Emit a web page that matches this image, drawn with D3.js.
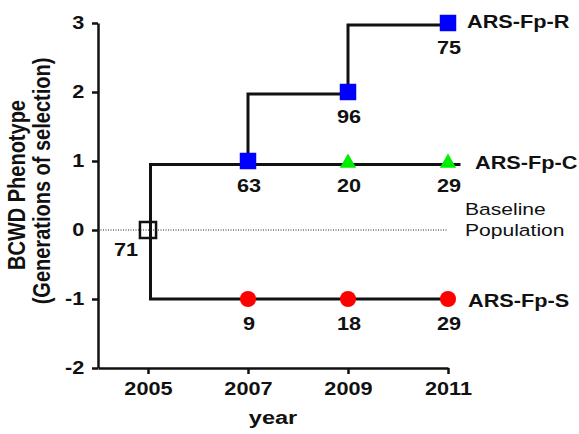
<!DOCTYPE html>
<html>
<head>
<meta charset="utf-8">
<script src="https://cdn.jsdelivr.net/npm/d3@7"></script>
<style>
  body { margin: 0; background: #fff; }
  svg text { font-family: "Liberation Sans", Arial, sans-serif; fill: #111; }
</style>
</head>
<body>
<div id="graph"></div>
<script>
// chart values
var years = [2005, 2007, 2009, 2011];
var yTicks = [-2, -1, 0, 1, 2, 3];

var baseline = [{year: 2005, value: 0, n: 71}];
var resistant = [{year: 2007, value: 1, n: 63}, {year: 2009, value: 2, n: 96}, {year: 2011, value: 3, n: 75}];
var control = [{year: 2009, value: 1, n: 20}, {year: 2011, value: 1, n: 29}];
var susceptible = [{year: 2007, value: -1, n: 9}, {year: 2009, value: -1, n: 18}, {year: 2011, value: -1, n: 29}];

// lineage (step) lines
var lineCS = [[2011.25, 0.95], [2005.05, 0.95], [2005.05, -1], [2011, -1]];
var lineR = [[2007, 0.95], [2007, 1.97], [2009, 1.97], [2009, 2.97], [2011, 2.97]];

var seriesNames = ["ARS-Fp-R", "ARS-Fp-C", "ARS-Fp-S"];
var seriesLevels = [3, 1, -1];

var w = 579, h = 434;
var sx = 1.24; // text in the picture is wide

var vis = d3.select("#graph").append("svg")
  .attr("width", w)
  .attr("height", h);

var x = d3.scaleLinear().domain([2004, 2011]).range([98, 448]);
var y = d3.scaleLinear().domain([-2, 3]).range([368, 23]);

function wideText(g, px, py, txt) {
  return g.append("text")
    .attr("transform", "translate(" + px + "," + py + ") scale(" + sx + ",1)")
    .text(txt);
}

// axes
var yAxis = vis.append("g")
  .attr("transform", "translate(98,0)")
  .call(d3.axisLeft(y).tickValues(yTicks).tickFormat(function(d) { return String(d); })
    .tickSize(6).tickSizeOuter(0).tickPadding(5));
var xAxis = vis.append("g")
  .attr("transform", "translate(0,368)")
  .call(d3.axisBottom(x).tickValues(years).tickFormat(function(d) { return String(d); })
    .tickSize(6).tickSizeOuter(0).tickPadding(7));

[yAxis, xAxis].forEach(function(a) {
  a.selectAll(".domain").attr("stroke", "#111").attr("stroke-width", 2.5);
  a.selectAll(".tick line").attr("stroke", "#111").attr("stroke-width", 2.5);
  a.selectAll(".tick text")
    .attr("font-size", "17.5px")
    .attr("font-weight", "bold")
    .attr("fill", "#111")
    .attr("transform", "scale(" + sx + ",1)");
});
xAxis.selectAll(".tick text").attr("dy", "0.8em");

// dotted baseline
vis.append("line")
  .attr("x1", x(2004)).attr("x2", x(2011))
  .attr("y1", y(0)).attr("y2", y(0))
  .attr("stroke", "#222")
  .attr("stroke-width", 1)
  .attr("stroke-dasharray", "1,1.5");

// lineage lines
var line = d3.line().x(function(d) { return x(d[0]); }).y(function(d) { return y(d[1]); });
vis.selectAll(".lineage")
  .data([lineCS, lineR])
  .enter()
  .append("path")
  .attr("class", "lineage")
  .attr("d", line)
  .attr("fill", "none")
  .attr("stroke", "#111")
  .attr("stroke-width", 3);

// markers
vis.selectAll(".base")
  .data(baseline)
  .enter()
  .append("path")
  .attr("class", "base")
  .attr("transform", function(d) { return "translate(" + x(d.year) + "," + y(d.value) + ")"; })
  .attr("d", d3.symbol().type(d3.symbolSquare).size(260))
  .attr("fill", "none")
  .attr("stroke", "#111")
  .attr("stroke-width", 2.5);

vis.selectAll(".res")
  .data(resistant)
  .enter()
  .append("path")
  .attr("class", "res")
  .attr("transform", function(d) { return "translate(" + x(d.year) + "," + y(d.value) + ")"; })
  .attr("d", d3.symbol().type(d3.symbolSquare).size(272))
  .attr("fill", "#0000ff");

vis.selectAll(".ctl")
  .data(control)
  .enter()
  .append("path")
  .attr("class", "ctl")
  .attr("transform", function(d) { return "translate(" + x(d.year) + "," + (y(d.value) + 2) + ")"; })
  .attr("d", d3.symbol().type(d3.symbolTriangle).size(115))
  .attr("fill", "#00ee00");

vis.selectAll(".sus")
  .data(susceptible)
  .enter()
  .append("path")
  .attr("class", "sus")
  .attr("transform", function(d) { return "translate(" + x(d.year) + "," + y(d.value) + ")"; })
  .attr("d", d3.symbol().type(d3.symbolCircle).size(205))
  .attr("fill", "#ff0000");

// sample-size labels
var labels = vis.append("g")
  .attr("font-size", "17.5px")
  .attr("font-weight", "bold")
  .attr("text-anchor", "middle");
resistant.concat(control, susceptible).forEach(function(d) {
  wideText(labels, x(d.year) + 1, y(d.value) + 31, d.n);
});
baseline.forEach(function(d) {
  wideText(labels, x(d.year) - 22, y(d.value) + 26, d.n);
});

// series names
var names = vis.append("g")
  .attr("font-size", "17.5px")
  .attr("font-weight", "bold");
var nameDx = [467, 475, 468];
var nameDy = [5, 8, 8];
seriesNames.forEach(function(s, i) {
  wideText(names, nameDx[i], y(seriesLevels[i]) + nameDy[i], s);
});

var baseTxt = vis.append("g").attr("font-size", "17px");
wideText(baseTxt, 465, y(0) - 15, "Baseline");
wideText(baseTxt, 465, y(0) + 6, "Population");

// axis titles
wideText(vis.append("g").attr("font-size", "19px").attr("font-weight", "bold").attr("text-anchor", "middle"),
  x(2007.5), 424, "year");

var yt = vis.append("g")
  .attr("font-size", "20px")
  .attr("font-weight", "bold")
  .attr("text-anchor", "middle");
yt.append("text")
  .attr("transform", "translate(25,185) rotate(-90) scale(1,1.15)")
  .text("BCWD Phenotype");
yt.append("text")
  .attr("transform", "translate(50,181) rotate(-90) scale(1,1.15)")
  .text("(Generations of selection)");
</script>
</body>
</html>
